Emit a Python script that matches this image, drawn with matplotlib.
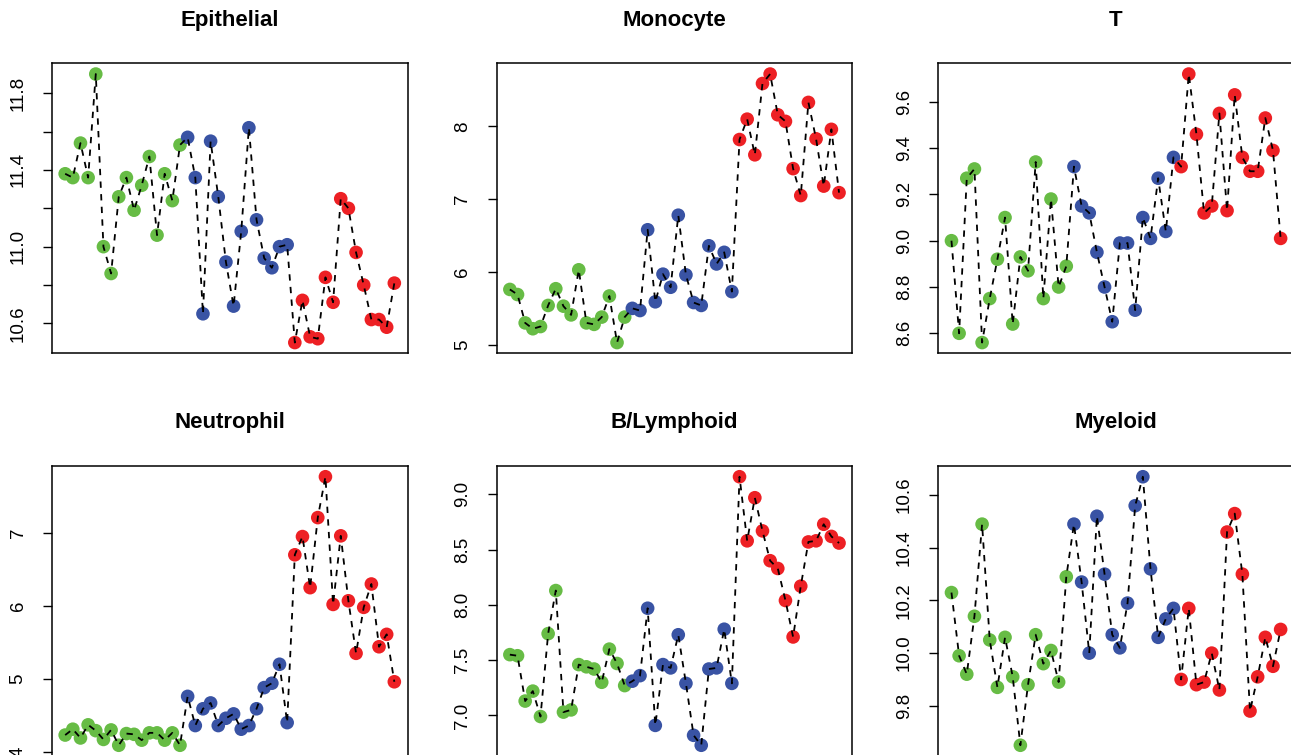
import numpy as np
import matplotlib.pyplot as plt

plt.rcParams['font.family'] = ['Liberation Sans', 'DejaVu Sans']

# panel titles and group sizes (green / blue / red samples)
titles = ['Epithelial', 'Monocyte', 'T', 'Neutrophil', 'B/Lymphoid', 'Myeloid']
group_sizes = [16, 14, 14]
group_colors = ['#67BC45', '#3953A4', '#ED2024']

epithelial = [11.38, 11.36, 11.54, 11.36, 11.90, 11.00, 10.86, 11.26, 11.36, 11.19, 11.32, 11.47, 11.06, 11.38, 11.24, 11.53,
              11.57, 11.36, 10.65, 11.55, 11.26, 10.92, 10.69, 11.08, 11.62, 11.14, 10.94, 10.89, 11.00, 11.01,
              10.50, 10.72, 10.53, 10.52, 10.84, 10.71, 11.25, 11.20, 10.97, 10.80, 10.62, 10.62, 10.58, 10.81]
monocyte = [5.76, 5.69, 5.30, 5.22, 5.25, 5.54, 5.77, 5.53, 5.41, 6.03, 5.30, 5.28, 5.38, 5.67, 5.03, 5.38,
            5.50, 5.47, 6.58, 5.59, 5.97, 5.79, 6.78, 5.96, 5.58, 5.54, 6.36, 6.11, 6.27, 5.73,
            7.82, 8.10, 7.61, 8.59, 8.72, 8.16, 8.07, 7.42, 7.05, 8.33, 7.83, 7.18, 7.96, 7.09]
t_cell = [9.00, 8.60, 9.27, 9.31, 8.56, 8.75, 8.92, 9.10, 8.64, 8.93, 8.87, 9.34, 8.75, 9.18, 8.80, 8.89,
          9.32, 9.15, 9.12, 8.95, 8.80, 8.65, 8.99, 8.99, 8.70, 9.10, 9.01, 9.27, 9.04, 9.36,
          9.32, 9.72, 9.46, 9.12, 9.15, 9.55, 9.13, 9.63, 9.36, 9.30, 9.30, 9.53, 9.39, 9.01]
neutrophil = [4.23, 4.31, 4.19, 4.37, 4.29, 4.17, 4.30, 4.09, 4.25, 4.24, 4.16, 4.26, 4.26, 4.16, 4.26, 4.09,
              4.76, 4.36, 4.59, 4.67, 4.36, 4.46, 4.52, 4.31, 4.36, 4.59, 4.88, 4.94, 5.20, 4.40,
              6.70, 6.95, 6.25, 7.21, 7.77, 6.02, 6.96, 6.07, 5.35, 5.98, 6.30, 5.44, 5.61, 4.96]
b_lymphoid = [7.55, 7.54, 7.13, 7.22, 6.99, 7.74, 8.13, 7.03, 7.05, 7.46, 7.44, 7.42, 7.30, 7.60, 7.47, 7.27,
              7.31, 7.36, 7.97, 6.91, 7.46, 7.43, 7.73, 7.29, 6.82, 6.73, 7.42, 7.43, 7.78, 7.29,
              9.16, 8.58, 8.97, 8.67, 8.40, 8.33, 8.04, 7.71, 8.17, 8.57, 8.58, 8.73, 8.62, 8.56]
myeloid = [10.23, 9.99, 9.92, 10.14, 10.49, 10.05, 9.87, 10.06, 9.91, 9.65, 9.88, 10.07, 9.96, 10.01, 9.89, 10.29,
           10.49, 10.27, 10.00, 10.52, 10.30, 10.07, 10.02, 10.19, 10.56, 10.67, 10.32, 10.06, 10.13, 10.17,
           9.90, 10.17, 9.88, 9.89, 10.00, 9.86, 10.46, 10.53, 10.30, 9.78, 9.91, 10.06, 9.95, 10.09]

yticks = [[10.6, 10.8, 11.0, 11.2, 11.4, 11.6, 11.8],
          [5, 6, 7, 8],
          [8.6, 8.8, 9.0, 9.2, 9.4, 9.6],
          [4, 5, 6, 7],
          [7.0, 7.5, 8.0, 8.5, 9.0],
          [9.8, 10.0, 10.2, 10.4, 10.6]]
ylabels = [['10.6', '', '11.0', '', '11.4', '', '11.8'],
           ['5', '6', '7', '8'],
           ['8.6', '8.8', '9.0', '9.2', '9.4', '9.6'],
           ['4', '5', '6', '7'],
           ['7.0', '7.5', '8.0', '8.5', '9.0'],
           ['9.8', '10.0', '10.2', '10.4', '10.6']]

series = [epithelial, monocyte, t_cell, neutrophil, b_lymphoid, myeloid]

W, H = 1291, 755
fig = plt.figure(figsize=(W / 100, H / 100), dpi=100)

lefts = [52, 496.7, 938.3]
tops = [63.3, 466]
pw, ph = 355.5, 290

colors = []
for c, n in zip(group_colors, group_sizes):
    colors += [c] * n

for i, (vals, title) in enumerate(zip(series, titles)):
    l = lefts[i % 3]
    t = tops[i // 3]
    ax = fig.add_axes([l / W, 1 - (t + ph) / H, pw / W, ph / H])
    x = np.arange(1, len(vals) + 1)
    ax.scatter(x, vals, s=9.8 ** 2, c=colors, linewidths=0, zorder=2)
    ax.plot(x, vals, color='black', lw=1.3, ls=(0, (3.5, 3.5)), zorder=3)
    ax.margins(0.04)
    ax.set_xticks([])
    ax.set_yticks(yticks[i])
    ax.set_yticklabels(ylabels[i], rotation=90, va='center')
    ax.tick_params(axis='y', length=6.3, width=1, pad=12, labelsize=13.5)
    for s in ax.spines.values():
        s.set_linewidth(1.1)
    ax.text(0.5, 1 + 37.6 / ph, title, transform=ax.transAxes, ha='center',
            va='baseline', fontsize=16, fontweight='bold')

fig.savefig('out.png', dpi=100)
